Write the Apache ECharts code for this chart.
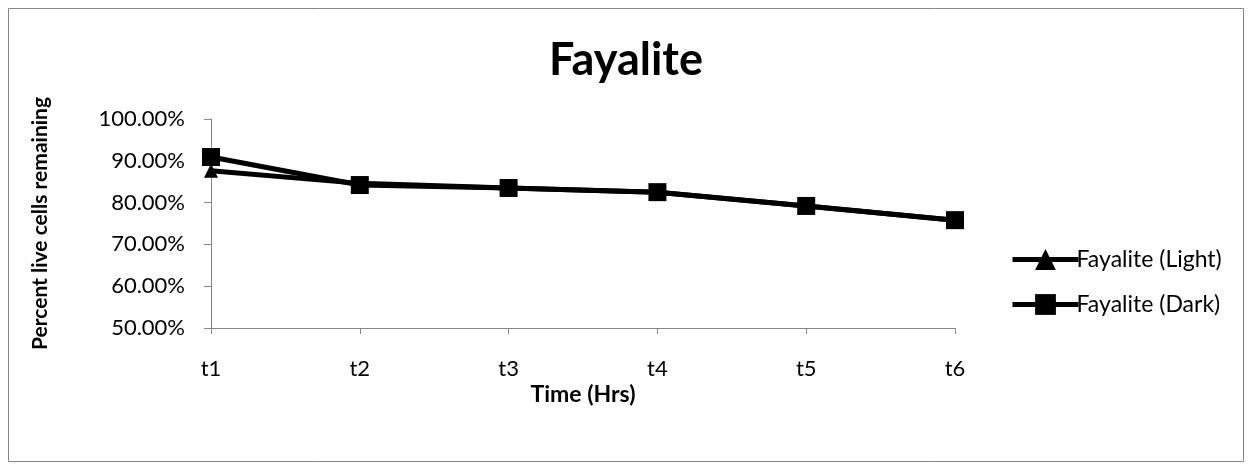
<!DOCTYPE html>
<html>
<head>
<meta charset="utf-8">
<script src="https://cdn.jsdelivr.net/npm/echarts@6/dist/echarts.min.js"></script>
<style>
html,body{margin:0;padding:0;background:#fff;}
#chart{width:1252px;height:470px;}
</style>
</head>
<body>
<div id="chart"></div>
<script>
const categories = ['t1', 't2', 't3', 't4', 't5', 't6'];
const lightValues = [0.876, 0.846, 0.835, 0.825, 0.792, 0.758];
const darkValues = [0.909, 0.842, 0.835, 0.825, 0.792, 0.758];
const seriesNames = ['Fayalite (Light)', 'Fayalite (Dark)'];
const titleText = 'Fayalite';
const xAxisName = 'Time (Hrs)';
const yAxisName = 'Percent live cells remaining';

const FONT = 'Lato, "Open Sans", sans-serif';
const chart = echarts.init(document.getElementById('chart'), null, {renderer: 'canvas'});
chart.setOption({
  animation: false,
  backgroundColor: '#fff',
  textStyle: {fontFamily: FONT},
  graphic: [{
    type: 'rect', shape: {x: 8.5, y: 8.5, width: 1235, height: 453},
    style: {fill: 'none', stroke: '#868686', lineWidth: 1}, silent: true
  }],
  title: {
    text: titleText, left: 'center', top: 33,
    textStyle: {fontFamily: FONT, fontSize: 45, fontWeight: 'bold', color: '#000'}
  },
  legend: {
    orient: 'vertical', left: 1005, top: 243, itemGap: 22,
    itemWidth: 66, itemHeight: 26,
    lineStyle: {width: 5, color: '#000'},
    textStyle: {fontFamily: FONT, fontSize: 23, color: '#000', padding: [0,0,0,-7]},
    data: seriesNames
  },
  grid: {left: 211, right: 297, top: 119, bottom: 142, containLabel: false},
  xAxis: {
    type: 'category', data: categories, boundaryGap: false,
    name: xAxisName, nameLocation: 'middle', nameGap: 55,
    nameTextStyle: {fontFamily: FONT, fontSize: 23, fontWeight: 'bold', color: '#000'},
    axisLine: {lineStyle: {color: '#868686', width: 1}},
    axisTick: {show: true, length: 6, lineStyle: {color: '#868686'}},
    axisLabel: {margin: 30, fontFamily: FONT, fontSize: 22, color: '#000'},
    splitLine: {show: false}
  },
  yAxis: {
    type: 'value', min: 0.5, max: 1.0, interval: 0.1,
    name: yAxisName, nameLocation: 'middle', nameGap: 160,
    nameTextStyle: {fontFamily: FONT, fontSize: 21, fontWeight: 'bold', color: '#000'},
    axisLine: {show: true, lineStyle: {color: '#868686', width: 1}},
    axisTick: {show: true, length: 7, lineStyle: {color: '#868686'}},
    axisLabel: {margin: 26, fontFamily: FONT, fontSize: 22, color: '#000',
      formatter: v => (v * 100).toFixed(2) + '%'},
    splitLine: {show: false}
  },
  series: [
    {
      name: seriesNames[0], type: 'line', data: lightValues,
      symbol: 'triangle', symbolSize: 14,
      lineStyle: {color: '#000', width: 5},
      itemStyle: {color: '#000'}
    },
    {
      name: seriesNames[1], type: 'line', data: darkValues,
      symbol: 'rect', symbolSize: 18,
      lineStyle: {color: '#000', width: 5},
      itemStyle: {color: '#000'}
    }
  ]
});
</script>
</body>
</html>
